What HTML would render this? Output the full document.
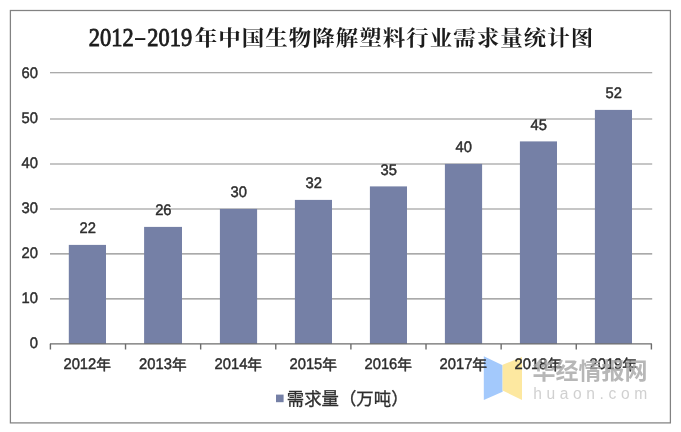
<!DOCTYPE html>
<html lang="zh-CN">
<head>
<meta charset="utf-8">
<title>2012-2019年中国生物降解塑料行业需求量统计图</title>
<style>
html,body{margin:0;padding:0;background:#fff;}
body{width:681px;height:432px;overflow:hidden;position:relative;}
svg{position:absolute;left:0;top:0;display:block;filter:blur(0.4px);}
.ax{font-family:"Liberation Sans","Noto Sans CJK SC",sans-serif;font-size:15.3px;fill:#2e2e2e;stroke:#2e2e2e;stroke-width:0.45px;text-rendering:geometricPrecision;}
.ax .cj{font-size:14.7px;stroke-width:0.45px;}
.title{font-family:"Liberation Serif","Noto Serif CJK SC",serif;font-weight:700;font-size:22.5px;letter-spacing:1.0px;fill:#1c1c1c;}
.title .num{font-weight:normal;font-size:26px;letter-spacing:0;stroke:#1c1c1c;stroke-width:0.9px;}
.lg{font-family:"Liberation Sans","Noto Sans CJK SC",sans-serif;font-size:17.4px;fill:#2e2e2e;stroke:#2e2e2e;stroke-width:0.3px;}
.wm1{font-family:"Liberation Sans","Noto Sans CJK SC",sans-serif;font-weight:bold;font-size:23px;fill:#a6a6a6;}
.wm2{font-family:"Liberation Sans",sans-serif;font-size:15.6px;fill:#c5c5c5;letter-spacing:4.6px;}
</style>
</head>
<body>
<svg width="681" height="432" viewBox="0 0 681 432">
<rect x="0" y="0" width="681" height="432" fill="#ffffff"/>
<rect x="10.4" y="10.5" width="660" height="412.4" fill="#ffffff" stroke="#828282" stroke-width="1.25"/>

<g stroke="#8e8e8e" stroke-width="1.1" fill="none">
<line x1="50.0" y1="298.90" x2="652.2" y2="298.90"/>
<line x1="50.0" y1="253.90" x2="652.2" y2="253.90"/>
<line x1="50.0" y1="209.00" x2="652.2" y2="209.00"/>
<line x1="50.0" y1="164.00" x2="652.2" y2="164.00"/>
<line x1="50.0" y1="119.00" x2="652.2" y2="119.00"/>
<line x1="50.0" y1="72.80" x2="652.2" y2="72.80"/>
</g>
<g fill="#7580a6">
<rect x="68.80" y="244.90" width="37.20" height="99.00"/>
<rect x="144.10" y="226.90" width="37.90" height="117.00"/>
<rect x="219.90" y="208.90" width="37.20" height="135.00"/>
<rect x="294.90" y="199.90" width="37.10" height="144.00"/>
<rect x="369.90" y="186.40" width="37.10" height="157.50"/>
<rect x="444.90" y="163.90" width="37.20" height="180.00"/>
<rect x="519.90" y="141.40" width="37.10" height="202.50"/>
<rect x="594.90" y="109.90" width="37.10" height="234.00"/>
</g>
<g stroke="#6c6c6c" stroke-width="1.4" fill="none">
<line x1="49.9" y1="343.90" x2="651.9" y2="343.90"/>
<line x1="50.40" y1="343.90" x2="50.40" y2="349.50"/>
<line x1="125.53" y1="343.90" x2="125.53" y2="349.50"/>
<line x1="200.65" y1="343.90" x2="200.65" y2="349.50"/>
<line x1="275.77" y1="343.90" x2="275.77" y2="349.50"/>
<line x1="350.90" y1="343.90" x2="350.90" y2="349.50"/>
<line x1="426.02" y1="343.90" x2="426.02" y2="349.50"/>
<line x1="501.15" y1="343.90" x2="501.15" y2="349.50"/>
<line x1="576.27" y1="343.90" x2="576.27" y2="349.50"/>
<line x1="651.40" y1="343.90" x2="651.40" y2="349.50"/>
</g>
<polygon points="483.8,356.3 502.6,365.3 502.6,391.7 483.8,400" fill="#a3c9fc"/>
<polygon points="502.6,364.8 522,357 522,400 502.6,390.5" fill="#fde8a0"/>
<g class="ax" text-anchor="end">
<text transform="translate(37.9,348.40) scale(0.965,1)">0</text>
<text transform="translate(37.9,303.40) scale(0.965,1)">10</text>
<text transform="translate(37.9,258.40) scale(0.965,1)">20</text>
<text transform="translate(37.9,213.40) scale(0.965,1)">30</text>
<text transform="translate(37.9,168.40) scale(0.965,1)">40</text>
<text transform="translate(37.9,123.40) scale(0.965,1)">50</text>
<text transform="translate(37.9,78.40) scale(0.965,1)">60</text>
</g>
<g class="ax" text-anchor="middle">
<text transform="translate(87.70,233.20) scale(0.965,1)">22</text>
<text text-anchor="start" x="63.43" y="368.8"><tspan textLength="32.84" lengthAdjust="spacingAndGlyphs">2012</tspan><tspan class="cj" dy="0.8">年</tspan></text>
<text transform="translate(163.35,215.20) scale(0.965,1)">26</text>
<text text-anchor="start" x="139.08" y="368.8"><tspan textLength="32.84" lengthAdjust="spacingAndGlyphs">2013</tspan><tspan class="cj" dy="0.8">年</tspan></text>
<text transform="translate(238.80,197.20) scale(0.965,1)">30</text>
<text text-anchor="start" x="214.53" y="368.8"><tspan textLength="32.84" lengthAdjust="spacingAndGlyphs">2014</tspan><tspan class="cj" dy="0.8">年</tspan></text>
<text transform="translate(313.75,188.20) scale(0.965,1)">32</text>
<text text-anchor="start" x="289.48" y="368.8"><tspan textLength="32.84" lengthAdjust="spacingAndGlyphs">2015</tspan><tspan class="cj" dy="0.8">年</tspan></text>
<text transform="translate(388.75,174.70) scale(0.965,1)">35</text>
<text text-anchor="start" x="364.48" y="368.8"><tspan textLength="32.84" lengthAdjust="spacingAndGlyphs">2016</tspan><tspan class="cj" dy="0.8">年</tspan></text>
<text transform="translate(463.80,152.20) scale(0.965,1)">40</text>
<text text-anchor="start" x="439.53" y="368.8"><tspan textLength="32.84" lengthAdjust="spacingAndGlyphs">2017</tspan><tspan class="cj" dy="0.8">年</tspan></text>
<text transform="translate(538.75,129.70) scale(0.965,1)">45</text>
<text text-anchor="start" x="514.48" y="368.8"><tspan textLength="32.84" lengthAdjust="spacingAndGlyphs">2018</tspan><tspan class="cj" dy="0.8">年</tspan></text>
<text transform="translate(613.75,98.20) scale(0.965,1)">52</text>
<text text-anchor="start" x="589.48" y="368.8"><tspan textLength="32.84" lengthAdjust="spacingAndGlyphs">2019</tspan><tspan class="cj" dy="0.8">年</tspan></text>
</g>
<text class="title" transform="translate(87.7,45.5) scale(1,0.930)"><tspan class="num" x="1.1" textLength="44.8" lengthAdjust="spacingAndGlyphs">2012</tspan><tspan class="num" x="45.9" dy="-0.8" stroke-width="0" style="stroke-width:0" textLength="13.3" lengthAdjust="spacingAndGlyphs">-</tspan><tspan class="num" x="59.6" dy="0.8" textLength="44.8" lengthAdjust="spacingAndGlyphs">2019</tspan><tspan x="107.1" dy="-0.6">年中国生物降解塑料行业需求量统计图</tspan></text>
<g opacity="0.8">
<text class="wm1" x="532.6" y="379">华经情报网</text>
<text class="wm2" x="533.2" y="398.6">huaon.com</text>
</g>
<rect x="276" y="394.6" width="7.6" height="7.6" fill="#7580a6"/>
<text class="lg" x="286.8" y="404.8">需求量（万吨）</text>
</svg>
</body>
</html>
